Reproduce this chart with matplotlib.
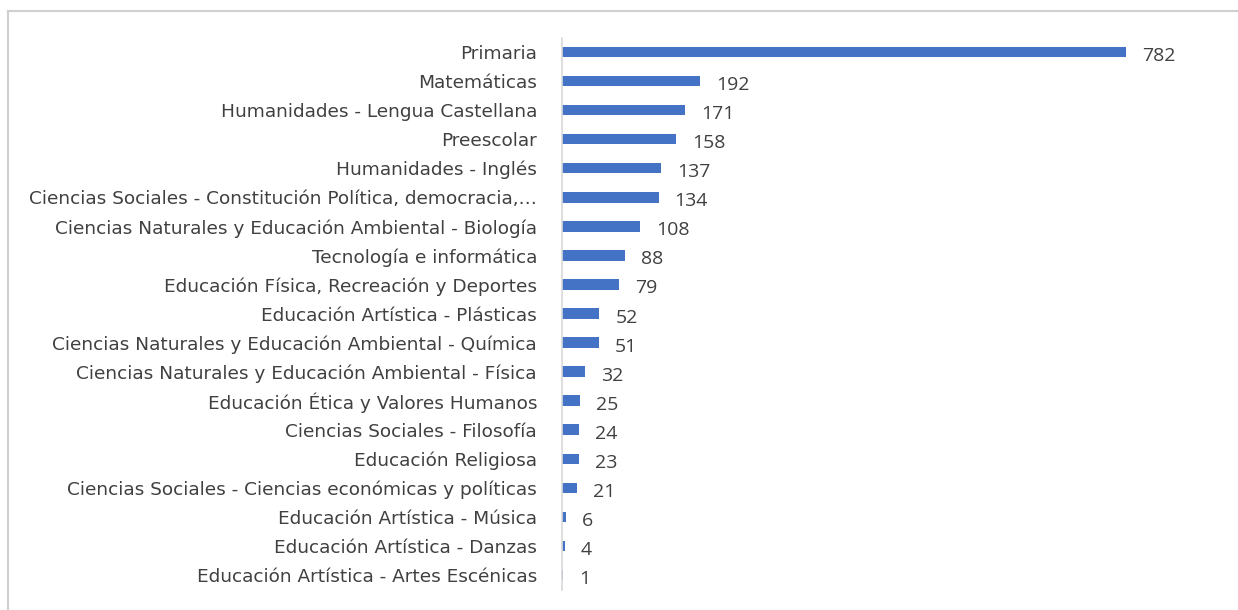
import matplotlib
matplotlib.use("Agg")
import matplotlib.pyplot as plt
from matplotlib.lines import Line2D

categories = [
    "Primaria",
    "Matemáticas",
    "Humanidades - Lengua Castellana",
    "Preescolar",
    "Humanidades - Inglés",
    "Ciencias Sociales - Constitución Política, democracia,…",
    "Ciencias Naturales y Educación Ambiental - Biología",
    "Tecnología e informática",
    "Educación Física, Recreación y Deportes",
    "Educación Artística - Plásticas",
    "Ciencias Naturales y Educación Ambiental - Química",
    "Ciencias Naturales y Educación Ambiental - Física",
    "Educación Ética y Valores Humanos",
    "Ciencias Sociales - Filosofía",
    "Educación Religiosa",
    "Ciencias Sociales - Ciencias económicas y políticas",
    "Educación Artística - Música",
    "Educación Artística - Danzas",
    "Educación Artística - Artes Escénicas",
]
values = [782, 192, 171, 158, 137, 134, 108, 88, 79, 52, 51, 32, 25, 24, 23, 21, 6, 4, 1]

plt.rcParams['font.family'] = ['Open Sans', 'DejaVu Sans']
text_color = "#404040"

fig = plt.figure(figsize=(12.38, 6.10), dpi=100)
ax = fig.add_axes([562/1238, 1-589.5/610, (1211-562)/1238, (589.5-37.5)/610])

y = list(range(len(categories)))
ax.barh(y, values, height=0.36, color="#4472C4")
ax.set_ylim(len(categories)-0.5, -0.5)
ax.set_xlim(0, 900)
ax.set_yticks(y)
ax.set_yticklabels(categories, fontsize=13.3, color=text_color, family=['DejaVu Sans'])
ax.tick_params(axis='y', length=0, pad=18)
ax.set_xticks([])
for s in ['top', 'right', 'bottom']:
    ax.spines[s].set_visible(False)
ax.spines['left'].set_color("#D9D9D9")
ax.spines['left'].set_linewidth(1.2)

for yi, v in zip(y, values):
    ax.annotate(str(v), (v, yi), xytext=(16, -4), textcoords='offset pixels',
                va='center', ha='left', fontsize=14, color=text_color)

# chart border
fig.add_artist(Line2D([8/1238, 8/1238], [0, 1-11/610], color="#D0D0D0", lw=1.5, transform=fig.transFigure))
fig.add_artist(Line2D([8/1238, 1], [1-11/610, 1-11/610], color="#D0D0D0", lw=1.5, transform=fig.transFigure))

fig.savefig("out.png", dpi=100)
